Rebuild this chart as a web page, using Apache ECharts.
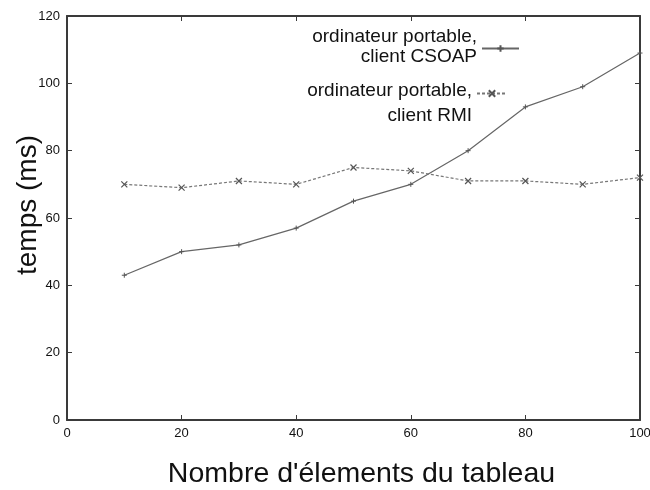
<!DOCTYPE html>
<html>
<head>
<meta charset="utf-8">
<script src="https://cdn.jsdelivr.net/npm/echarts@6/dist/echarts.min.js"></script>
<style>
  html, body { margin: 0; padding: 0; background: #fff; }
  #chart { width: 650px; height: 490px; }
</style>
</head>
<body>
<div id="chart"></div>
<script>
// Array sizes (number of elements) and measured call times in ms
const sizes = [10, 20, 30, 40, 50, 60, 70, 80, 90, 100];
const csoapTimes = [43, 50, 52, 57, 65, 70, 80, 93, 99, 109];
const rmiTimes = [70, 69, 71, 70, 75, 74, 71, 71, 70, 72];
const seriesNames = ['ordinateur portable,\nclient CSOAP', 'ordinateur portable,\nclient RMI'];
const xTitle = "Nombre d'élements du tableau";
const yTitle = 'temps (ms)';

const FONT = '"Liberation Sans", Arial, sans-serif';
const AXIS_COLOR = '#3a3a3a';

const toPairs = (xs, ys) => xs.map((x, i) => [x, ys[i]]);

const plusSymbol = 'path://M0,5L10,5M5,0L5,10';
const crossSymbol = 'path://M0,0L10,10M10,0L0,10';

const chart = echarts.init(document.getElementById('chart'), null, { renderer: 'canvas' });

const tickLabel = { fontFamily: FONT, fontSize: 13, color: '#111' };
const tickStyle = { show: true, inside: true, length: 5, lineStyle: { color: AXIS_COLOR, width: 1 } };
const frameLine = { show: true, onZero: false, lineStyle: { color: AXIS_COLOR, width: 2 } };

// Two-line legend labels; the line heights place the sample line between the lines
const legendLine = (lh) => ({ fontFamily: FONT, fontSize: 19, color: '#111', align: 'right', lineHeight: lh });
const twoLines = (name) => {
  const parts = name.split('\n');
  return '{a|' + parts[0] + '}\n{b|' + parts[1] + '}';
};

chart.setOption({
  animation: false,
  backgroundColor: '#fff',
  grid: { left: 67, right: 10, top: 16, bottom: 70, containLabel: false, outerBoundsMode: 'none' },
  legend: [
    {
      orient: 'vertical', align: 'right', selectedMode: false,
      right: 125, top: 22, itemWidth: 37, itemHeight: 8,
      data: [seriesNames[0]],
      formatter: twoLines,
      textStyle: { fontFamily: FONT, fontSize: 19, color: '#111', align: 'right',
        rich: { a: legendLine(16), b: legendLine(24) } }
    },
    {
      orient: 'vertical', align: 'right', selectedMode: false,
      right: 137, top: 76, itemWidth: 30, itemHeight: 8,
      data: [seriesNames[1]],
      formatter: twoLines,
      textStyle: { fontFamily: FONT, fontSize: 19, color: '#111', align: 'right',
        rich: { a: legendLine(44), b: legendLine(6) } }
    }
  ],
  xAxis: [
    {
      type: 'value', min: 0, max: 100, interval: 20, position: 'bottom',
      name: xTitle, nameLocation: 'middle', nameGap: 40,
      nameTextStyle: { fontFamily: FONT, fontSize: 28.5, color: '#111', padding: [0, 0, 0, 16] },
      axisLine: frameLine,
      axisTick: tickStyle,
      axisLabel: Object.assign({ margin: 7 }, tickLabel),
      splitLine: { show: false }
    },
    {
      type: 'value', min: 0, max: 100, interval: 20, position: 'top',
      axisLine: frameLine,
      axisTick: tickStyle,
      axisLabel: { show: false },
      splitLine: { show: false }
    }
  ],
  yAxis: [
    {
      type: 'value', min: 0, max: 120, interval: 20, position: 'left',
      name: yTitle, nameLocation: 'middle', nameGap: 25, nameRotate: 90,
      nameMoveOverlap: false,
      nameTextStyle: { fontFamily: FONT, fontSize: 28, color: '#111', padding: [0, 0, 0, 26] },
      axisLine: frameLine,
      axisTick: tickStyle,
      axisLabel: Object.assign({ margin: 7 }, tickLabel),
      splitLine: { show: false }
    },
    {
      type: 'value', min: 0, max: 120, interval: 20, position: 'right',
      axisLine: frameLine,
      axisTick: tickStyle,
      axisLabel: { show: false },
      splitLine: { show: false }
    }
  ],
  series: [
    {
      name: seriesNames[0],
      type: 'line',
      xAxisIndex: 0, yAxisIndex: 0,
      data: toPairs(sizes, csoapTimes),
      symbol: plusSymbol,
      symbolSize: 5,
      showAllSymbol: true,
      lineStyle: { color: '#666', width: 1.2, type: 'solid' },
      itemStyle: { color: '#666', borderColor: '#555', borderWidth: 1 }
    },
    {
      name: seriesNames[1],
      type: 'line',
      xAxisIndex: 0, yAxisIndex: 0,
      data: toPairs(sizes, rmiTimes),
      symbol: crossSymbol,
      symbolSize: 6,
      showAllSymbol: true,
      lineStyle: { color: '#777', width: 1.2, type: [3, 2] },
      itemStyle: { color: '#666', borderColor: '#555', borderWidth: 1.2 }
    }
  ]
});
</script>
</body>
</html>
